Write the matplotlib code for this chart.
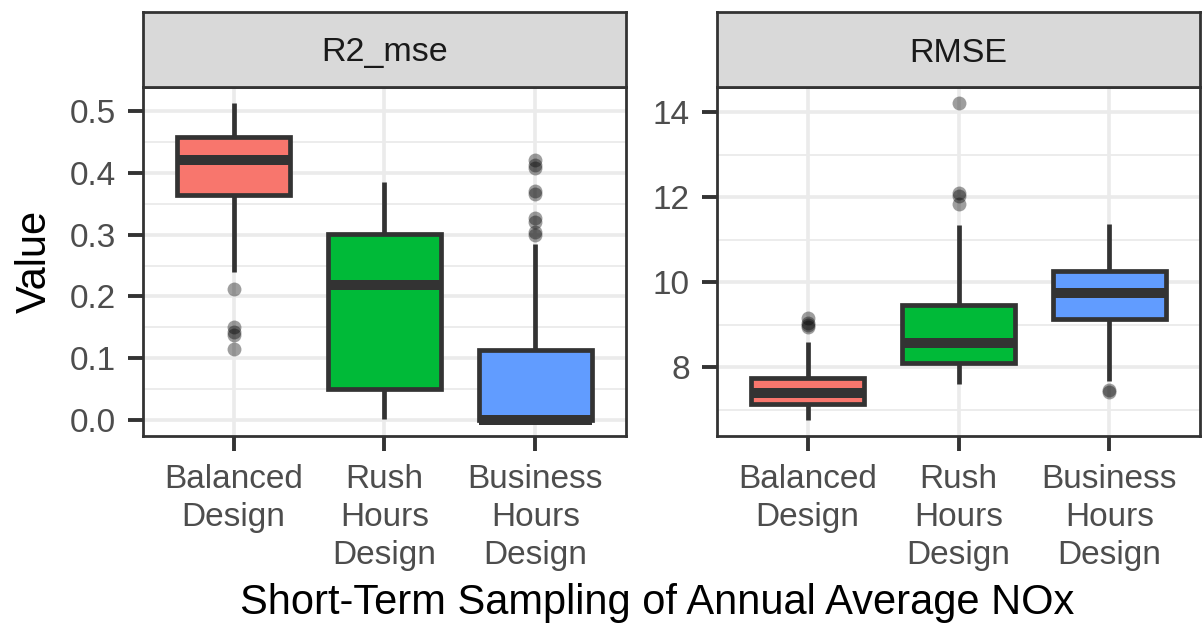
import matplotlib
matplotlib.use("Agg")
import matplotlib.pyplot as plt
from matplotlib.ticker import MultipleLocator, FormatStrFormatter

plt.rcParams["font.family"] = ["Liberation Sans", "DejaVu Sans"]

designs = ["Balanced\nDesign", "Rush\nHours\nDesign", "Business\nHours\nDesign"]
fills = ["#F8766D", "#00BA38", "#619CFF"]

# R2_mse summary per design: lower whisker, Q1, median, Q3, upper whisker
r2_whislo = [0.240, 0.002, 0.000]
r2_q1 = [0.364, 0.051, 0.000]
r2_med = [0.420, 0.219, 0.000]
r2_q3 = [0.458, 0.301, 0.1135]
r2_whishi = [0.513, 0.385, 0.284]
r2_fliers = [
    [0.212, 0.151, 0.143, 0.138, 0.115],
    [],
    [0.421, 0.412, 0.407, 0.370, 0.366, 0.327, 0.320, 0.304, 0.300],
]

# RMSE summary per design
rmse_whislo = [6.76, 7.62, 7.69]
rmse_q1 = [7.13, 8.10, 9.14]
rmse_med = [7.39, 8.58, 9.75]
rmse_q3 = [7.74, 9.46, 10.26]
rmse_whishi = [8.60, 11.35, 11.36]
rmse_fliers = [
    [9.16, 9.05, 8.99, 8.95],
    [14.22, 12.10, 12.04, 11.85],
    [7.47, 7.42],
]

W, H = 1203, 623
DARK = "#333333"
GRID = "#EBEBEB"


def px_axes(fig, x0, y0, x1, y1):
    return fig.add_axes([x0 / W, 1 - y1 / H, (x1 - x0) / W, (y1 - y0) / H])


def build_stats(whislo, q1, med, q3, whishi, fliers):
    stats = []
    for i in range(len(med)):
        stats.append({
            "whislo": whislo[i], "q1": q1[i], "med": med[i],
            "q3": q3[i], "whishi": whishi[i], "fliers": fliers[i],
        })
    return stats


def draw_panel(fig, x0, x1, title, stats, major, minor, fmt):
    ax = px_axes(fig, x0, 87, x1, 436)
    strip = px_axes(fig, x0, 12, x1, 87)

    pos = list(range(1, len(stats) + 1))
    art = ax.bxp(stats, positions=pos, widths=0.75, patch_artist=True,
                 showcaps=False, zorder=3,
                 boxprops=dict(edgecolor=DARK, linewidth=3.4),
                 whiskerprops=dict(color=DARK, linewidth=3.4, solid_capstyle="butt"),
                 medianprops=dict(color=DARK, linewidth=7.2, solid_capstyle="butt"),
                 flierprops=dict(marker="o", markersize=10, markerfacecolor="black",
                                 markeredgecolor="none", alpha=0.38))
    for patch, c in zip(art["boxes"], fills):
        patch.set_facecolor(c)

    lo = min(min(s["whislo"] for s in stats), min(min(s["fliers"], default=99) for s in stats))
    hi = max(max(s["whishi"] for s in stats), max(max(s["fliers"], default=-99) for s in stats))
    pad = 0.05 * (hi - lo)
    ax.set_ylim(lo - pad, hi + pad)
    ax.set_xlim(0.4, len(stats) + 0.6)

    ax.yaxis.set_major_locator(MultipleLocator(major))
    ax.yaxis.set_minor_locator(MultipleLocator(minor))
    ax.yaxis.set_major_formatter(fmt)
    ax.set_xticks(pos)
    ax.set_xticklabels(designs, fontsize=24.5, color="#4D4D4D", linespacing=1.29)
    ax.grid(which="major", color=GRID, linewidth=2.6, zorder=0)
    ax.grid(which="minor", axis="y", color=GRID, linewidth=1.3, zorder=0)
    ax.set_axisbelow(True)
    ax.tick_params(axis="both", which="major", length=10.5, width=2.8, color=DARK,
                   labelsize=24, labelcolor="#4D4D4D")
    ax.tick_params(axis="y", which="major", pad=9)
    ax.tick_params(axis="x", which="major", pad=10)
    ax.tick_params(axis="y", which="minor", length=0)
    for sp in ax.spines.values():
        sp.set_color(DARK)
        sp.set_linewidth(2.0)

    strip.set_facecolor("#D9D9D9")
    strip.set_xticks([])
    strip.set_yticks([])
    for sp in strip.spines.values():
        sp.set_color(DARK)
        sp.set_linewidth(2.0)
    strip.text(0.5, 0.5, title, ha="center", va="center_baseline", fontsize=24.5,
               color="#1A1A1A", transform=strip.transAxes)
    return ax


fig = plt.figure(figsize=(W / 100, H / 100), dpi=100)

draw_panel(fig, 143, 626, "R2_mse",
           build_stats(r2_whislo, r2_q1, r2_med, r2_q3, r2_whishi, r2_fliers),
           0.1, 0.05, FormatStrFormatter("%.1f"))
draw_panel(fig, 717, 1200, "RMSE",
           build_stats(rmse_whislo, rmse_q1, rmse_med, rmse_q3, rmse_whishi, rmse_fliers),
           2, 1, FormatStrFormatter("%d"))

fig.text(35 / W, 1 - 261 / H, "Value", rotation=90, ha="center", va="center",
         fontsize=30, color="black")
fig.text(657 / W, 1 - 603 / H, "Short-Term Sampling of Annual Average NOx",
         ha="center", va="center", fontsize=30, color="black")

fig.savefig("out.png", dpi=100)
